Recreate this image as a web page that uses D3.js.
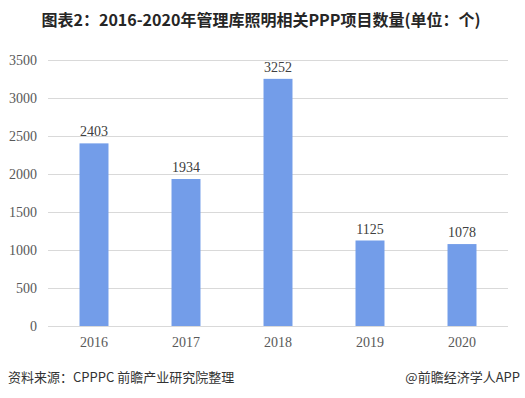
<!DOCTYPE html>
<html>
<head>
<meta charset="utf-8">
<script src="https://cdn.jsdelivr.net/npm/d3@7"></script>
<style>
  html, body { margin: 0; padding: 0; background: #fff; }
  svg { display: block; }
</style>
</head>
<body>
<div id="chart"></div>
<script>
/* ── data ─────────────────────────────── */
const years  = ['2016', '2017', '2018', '2019', '2020'];
const counts = [2403, 1934, 3252, 1125, 1078];
const yTicks = [0, 500, 1000, 1500, 2000, 2500, 3000, 3500];

const titleText  = '图表2：2016-2020年管理库照明相关PPP项目数量(单位：个)';
const sourceText = '资料来源：CPPPC 前瞻产业研究院整理';
const brandText  = '@前瞻经济学人APP';

/* ── layout ───────────────────────────── */
const W = 525, H = 398;
const plot = { left: 48, right: 508, top: 60, bottom: 326 };
const serif = '"Liberation Serif", "Times New Roman", serif';
const sans  = '"Noto Sans CJK SC", "Microsoft YaHei", sans-serif';

const svg = d3.select('#chart').append('svg')
  .attr('width', W).attr('height', H);

const x = d3.scaleBand()
  .domain(years)
  .range([plot.left, plot.right])
  .paddingInner(0.685)
  .paddingOuter(0.3425);

const y = d3.scaleLinear()
  .domain([0, 3500])
  .range([plot.bottom, plot.top]);

/* title */
svg.append('text')
  .attr('x', 261).attr('y', 26)
  .attr('text-anchor', 'middle')
  .style('font-family', sans)
  .style('font-weight', 'bold')
  .style('font-size', '16px')
  .style('fill', '#262626')
  .text(titleText);

/* grid */
svg.append('g').selectAll('line')
  .data(yTicks).join('line')
  .attr('x1', plot.left).attr('x2', plot.right)
  .attr('y1', d => Math.round(y(d)) + 0.5).attr('y2', d => Math.round(y(d)) + 0.5)
  .style('stroke', '#d9d9d9').style('stroke-width', 1);

/* y axis */
const yAxis = svg.append('g')
  .attr('transform', `translate(${plot.left - 11},0)`)
  .call(d3.axisLeft(y).tickValues(yTicks).tickFormat(d3.format('d')).tickSize(0).tickPadding(0));
yAxis.select('.domain').remove();
yAxis.selectAll('text')
  .style('font-family', serif)
  .style('font-size', '14px')
  .style('fill', '#595959');

/* x axis */
const xAxis = svg.append('g')
  .attr('transform', `translate(0,${plot.bottom})`)
  .call(d3.axisBottom(x).tickSize(0).tickPadding(11));
xAxis.select('.domain').remove();
xAxis.selectAll('text')
  .style('font-family', serif)
  .style('font-size', '14px')
  .style('fill', '#595959');

/* bars */
svg.append('g').selectAll('rect')
  .data(counts).join('rect')
  .attr('x', (d, i) => x(years[i]))
  .attr('width', x.bandwidth())
  .attr('y', d => y(d))
  .attr('height', d => y(0) - y(d))
  .style('fill', '#739de9');

/* value labels */
svg.append('g').selectAll('text')
  .data(counts).join('text')
  .attr('x', (d, i) => x(years[i]) + x.bandwidth() / 2)
  .attr('y', d => y(d) - 7)
  .attr('text-anchor', 'middle')
  .style('font-family', serif)
  .style('font-size', '14px')
  .style('fill', '#404040')
  .text(d => d);

/* footer */
svg.append('text')
  .attr('x', 8).attr('y', 382)
  .style('font-family', sans)
  .style('font-size', '13px')
  .style('fill', '#333')
  .text(sourceText);

svg.append('text')
  .attr('x', 520).attr('y', 382)
  .attr('text-anchor', 'end')
  .style('font-family', sans)
  .style('font-size', '13px')
  .style('fill', '#333')
  .text(brandText);
</script>
</body>
</html>
